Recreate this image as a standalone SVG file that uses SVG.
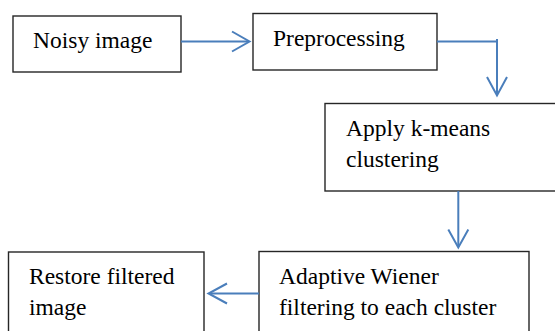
<svg xmlns="http://www.w3.org/2000/svg" width="555" height="331" viewBox="0 0 555 331">
  <style>
    .box { fill: #ffffff; stroke: #262626; stroke-width: 1.4; }
    .label { font-family: 'Liberation Serif', 'Times New Roman', serif; font-size: 23.5px; fill: #000000; }
    .link { fill: none; stroke: #4a7ebb; stroke-width: 2; }
    .head { fill: none; stroke: #4a7ebb; stroke-width: 2; stroke-linejoin: miter; }
  </style>
  <rect width="555" height="331" fill="#ffffff"/>

  <g id="noisy-image">
    <rect class="box" x="13" y="16" width="168" height="56"/>
    <text class="label" x="33" y="48">Noisy image</text>
  </g>

  <g id="preprocessing">
    <rect class="box" x="253" y="13.5" width="184" height="56.5"/>
    <text class="label" x="273" y="46">Preprocessing</text>
  </g>

  <g id="kmeans">
    <rect class="box" x="325" y="103.5" width="240" height="87.5"/>
    <text class="label" x="346" y="135.5">Apply k-means</text>
    <text class="label" x="346" y="166.5">clustering</text>
  </g>

  <g id="wiener">
    <rect class="box" x="259" y="251.5" width="270" height="90"/>
    <text class="label" x="279" y="283.5">Adaptive Wiener</text>
    <text class="label" x="279" y="314.5">filtering to each cluster</text>
  </g>

  <g id="restore">
    <rect class="box" x="8.5" y="252" width="195.5" height="90"/>
    <text class="label" x="29" y="283.5">Restore filtered</text>
    <text class="label" x="29" y="314.5">image</text>
  </g>

  <g id="connectors">
    <!-- noisy image -> preprocessing -->
    <path class="link" d="M181 41.5 H249"/>
    <path class="head" d="M232 31.5 L249.5 41.5 L232 51.5"/>
    <!-- preprocessing -> k-means -->
    <path class="link" d="M437 41.5 H497 M497 39 V95"/>
    <path class="head" d="M487 77 L497 95.5 L507 77"/>
    <!-- k-means -> wiener -->
    <path class="link" d="M458.3 191 V247"/>
    <path class="head" d="M448.3 229.5 L458.3 247.5 L468.3 229.5"/>
    <!-- wiener -> restore -->
    <path class="link" d="M259 293.5 H209"/>
    <path class="head" d="M227 283.5 L208.5 293.5 L227 303.5"/>
  </g>
</svg>
